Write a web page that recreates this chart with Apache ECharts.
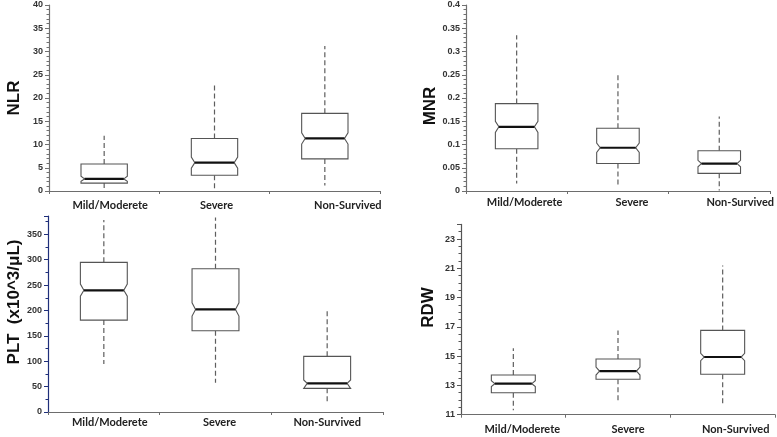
<!DOCTYPE html>
<html>
<head>
<meta charset="utf-8">
<script src="https://cdn.jsdelivr.net/npm/echarts@6/dist/echarts.min.js"></script>
<style>html,body{margin:0;padding:0;background:#fff}#c{width:777px;height:437px}</style>
</head>
<body>
<div id="c"></div>
<script>
// ---- data ----
const categories = ['Mild/Moderete', 'Severe', 'Non-Survived'];
// each row: [whiskerLow, Q1, median, Q3, whiskerHigh, notchLow, notchHigh]
const nlrStats = [
  [0.2, 1.7, 2.6, 5.8, 11.9, 2.1, 3.2],
  [0.6, 3.4, 6.1, 11.3, 23.1, 4.9, 7.3],
  [1.2, 6.9, 11.3, 16.7, 31.2, 10.1, 12.5]
];
const mnrStats = [
  [0.016, 0.091, 0.138, 0.188, 0.335, 0.126, 0.150],
  [0.009, 0.059, 0.093, 0.135, 0.251, 0.083, 0.103],
  [0.001, 0.038, 0.059, 0.0865, 0.160, 0.052, 0.066]
];
const pltStats = [
  [94.5, 181, 239.6, 294.7, 378, 228, 252],
  [57.7, 160, 202, 282, 383, 189, 215],
  [19, 46.6, 56.4, 109.6, 202, 46.6, 63]
];
const rdwStats = [
  [11.3, 12.5, 13.12, 13.71, 15.54, 12.92, 13.32],
  [11.9, 13.42, 13.98, 14.8, 16.76, 13.71, 14.25],
  [11.78, 13.76, 14.94, 16.76, 21.2, 14.69, 15.19]
];
const nlrTicks = {min: 0, max: 40, interval: 5};
const mnrTicks = {min: 0, max: 0.4, interval: 0.05};
const pltTicks = {min: 0, max: 386, interval: 50};
const rdwTicks = {min: 11, max: 24, interval: 2};

// ---- chart ----
const chart = echarts.init(document.getElementById('c'), null, {renderer: 'canvas'});

function renderBox(params, api) {
  const idx = api.value(0);
  const lo = api.value(1), q1 = api.value(2), med = api.value(3), q3 = api.value(4), hi = api.value(5);
  let nlo = Math.max(api.value(6), q1), nhi = Math.min(api.value(7), q3);
  const c = api.coord([idx, med]);
  const band = api.size([1, 0])[0];
  const w = band * 0.42;
  const x0 = c[0] - w / 2, x1 = c[0] + w / 2;
  const Y = v => api.coord([idx, v])[1];
  const yLo = Y(lo), yQ1 = Y(q1), yMed = Y(med), yQ3 = Y(q3), yHi = Y(hi), yNlo = Y(nlo), yNhi = Y(nhi);
  const n = 3.5;
  const wStyle = {stroke: '#5e5e5e', lineWidth: 1.2, lineDash: [5, 3], fill: null};
  return {
    type: 'group',
    children: [
      {type: 'line', shape: {x1: c[0], y1: yQ3, x2: c[0], y2: yHi}, style: wStyle},
      {type: 'line', shape: {x1: c[0], y1: yQ1, x2: c[0], y2: yLo}, style: wStyle},
      {type: 'polygon', shape: {points: [
        [x0, yQ3], [x1, yQ3], [x1, yNhi], [x1 - n, yMed], [x1, yNlo], [x1, yQ1],
        [x0, yQ1], [x0, yNlo], [x0 + n, yMed], [x0, yNhi]
      ]}, style: {fill: '#ffffff', stroke: '#555555', lineWidth: 1.1}},
      {type: 'line', shape: {x1: x0 + n, y1: yMed, x2: x1 - n, y2: yMed}, style: {stroke: '#111', lineWidth: 2.2}}
    ]
  };
}

const grids = [
  {left: 49, top: 5, width: 331, height: 186},
  {left: 466, top: 5, width: 304, height: 186},
  {left: 48, top: 216, width: 335, height: 196},
  {left: 461, top: 224.4, width: 314, height: 190.3}
];
const names = ['NLR', 'MNR', 'PLT  (x10^3/\u03bcL)', 'RDW'];
const nameGaps = [26, 24, 24, 24];
const namePads = [[0, 0, 0, 0], [0, 16, 0, 0], [0, 0, 0, 24], [0, 0, 0, 24]];
const ticksArr = [nlrTicks, mnrTicks, pltTicks, rdwTicks];
const minorSplits = [5, 5, 2, 4];
const yAxisColors = ['#707070', '#707070', '#1f2f7a', '#555555'];
const statsArr = [nlrStats, mnrStats, pltStats, rdwStats];
const labelShift = [[6, 2, 23], [8, 14, 21], [6, 4, 0], [9, 10, 13]];
const labelMargin = [9, 6, 5, 9];

const xAxes = [], yAxes = [], series = [];
for (let g = 0; g < 4; g++) {
  const rich = {};
  for (let i = 0; i < 3; i++) {
    rich['s' + i] = {padding: [0, 0, 0, 2 * labelShift[g][i]], fontFamily: 'Lato', fontWeight: 'bold', fontSize: 11, color: '#222'};
  }
  xAxes.push({
    type: 'category', gridIndex: g, data: categories, boundaryGap: true,
    axisLine: {lineStyle: {color: '#6d6d6d', width: 1.2}},
    axisTick: {show: true, length: 3, lineStyle: {color: '#6d6d6d'}},
    axisLabel: {margin: labelMargin[g], interval: 0,
      formatter: (v, i) => '{s' + i + '|' + v + '}', rich: rich},
    splitLine: {show: false}
  });
  const t = ticksArr[g];
  yAxes.push({
    type: 'value', gridIndex: g, min: t.min, max: t.max, interval: t.interval,
    name: names[g], nameLocation: 'middle', nameGap: nameGaps[g],
    nameTextStyle: {fontFamily: 'Liberation Sans', fontWeight: 'bold', fontSize: 17, color: '#111', padding: namePads[g]},
    axisLine: {show: true, lineStyle: {color: yAxisColors[g], width: 1.2}},
    axisTick: {show: true, length: 4, lineStyle: {color: yAxisColors[g]}},
    minorTick: {show: true, splitNumber: minorSplits[g], length: 2.5, lineStyle: {color: yAxisColors[g]}},
    axisLabel: {fontFamily: 'Liberation Sans', fontWeight: 'bold', fontSize: 9, color: '#333', margin: 6, showMaxLabel: g !== 2 && g !== 3 ? true : false,
      formatter: v => String(+v.toFixed(3))},
    splitLine: {show: false}
  });
  series.push({
    type: 'custom', xAxisIndex: g, yAxisIndex: g, renderItem: renderBox,
    encode: {x: 0, y: [1, 5]},
    data: statsArr[g].map((r, i) => [i].concat(r)),
    clip: false
  });
}

chart.setOption({
  animation: false,
  backgroundColor: '#ffffff',
  grid: grids,
  xAxis: xAxes,
  yAxis: yAxes,
  series: series
});
</script>
</body>
</html>
